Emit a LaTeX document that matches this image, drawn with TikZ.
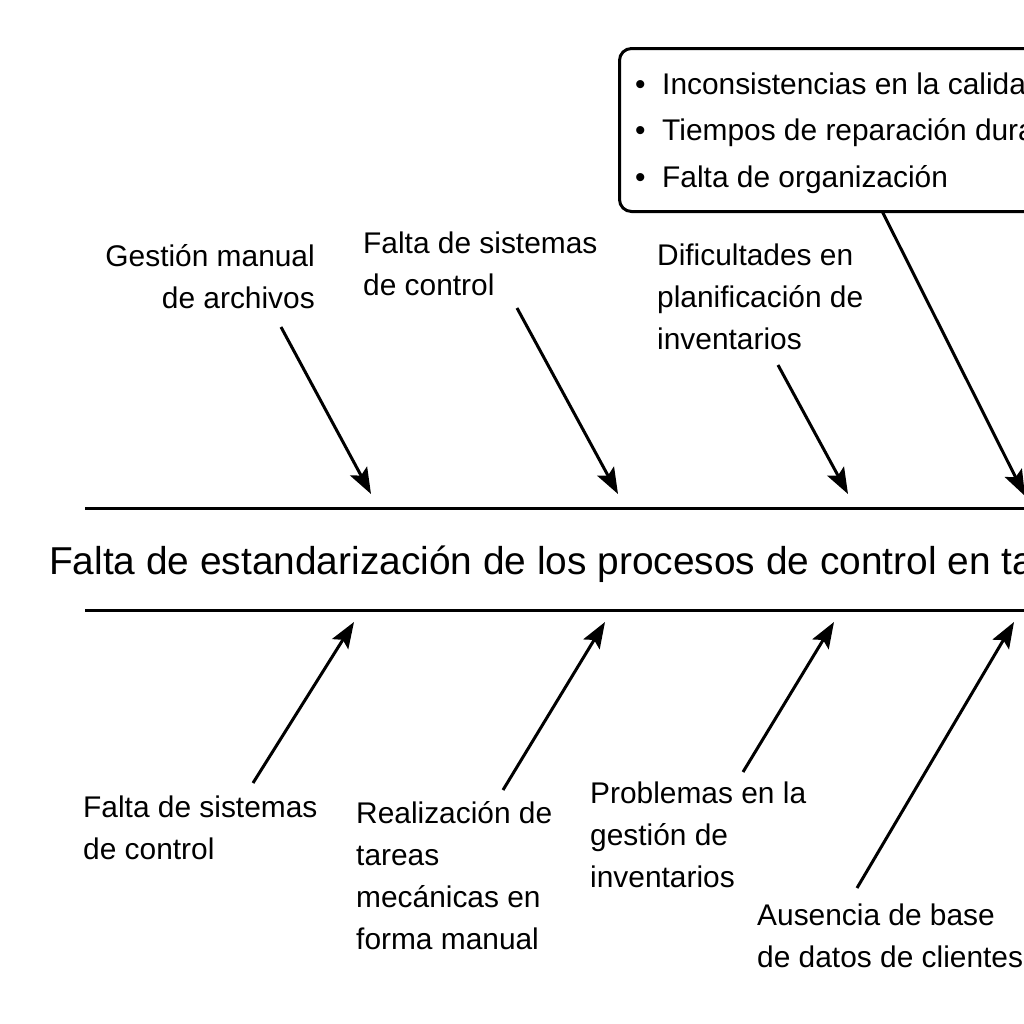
\documentclass[tikz,border=0pt]{standalone}
\usepackage{fontspec}
\setmainfont{Liberation Sans}
\usetikzlibrary{arrows.meta}
\begin{document}
\begin{tikzpicture}[x=1bp,y=-1bp,
  lbl/.style={font=\fontsize{30}{42}\selectfont, inner sep=0pt, align=left},
  boxtext/.style={font=\fontsize{30}{46.5}\selectfont, inner sep=0pt, align=left},
  spine/.style={line width=3bp},
  cause/.style={line width=3bp, -{Stealth[length=26bp,width=19bp,inset=5bp]}},
  effbox/.style={draw, line width=3bp, rounded corners=12bp, inner sep=0pt}]
\useasboundingbox (0,0) rectangle (1024,1024);
\clip (0,0) rectangle (1024,1024);
\fill[white] (0,0) rectangle (1024,1024);

% spine
\coordinate (s1l) at (85,508);
\coordinate (s1r) at (1040,508);
\coordinate (s2l) at (85,610);
\coordinate (s2r) at (1040,610);
\draw[spine] (s1l) -- (s1r);
\draw[spine] (s2l) -- (s2r);
\node[anchor=base west, inner sep=0pt, font=\fontsize{39}{46}\selectfont] (title) at (49,574)
  {Falta de estandarización de los procesos de control en talleres};

% effect box
\node[effbox, anchor=north west, minimum width=600bp, minimum height=163bp] (bx) at (618,47) {};
\node[boxtext, anchor=base west] (bt) at (635,187)
  {\makebox[27bp][l]{\textbullet}Inconsistencias en la calidad\\
   \makebox[27bp][l]{\textbullet}Tiempos de reparación durante\\
   \makebox[27bp][l]{\textbullet}Falta de organización};

% upper labels (anchored at the baseline of the last line)
\node[lbl, align=right, anchor=base east] (u1) at (315,308) {Gestión manual\\de archivos};
\node[lbl, anchor=base west] (u2) at (363,295) {Falta de sistemas\\de control};
\node[lbl, anchor=base west] (u3) at (657,349) {Dificultades en\\planificación de\\inventarios};

% lower labels
\node[lbl, anchor=base west] (l1) at (83,859) {Falta de sistemas\\de control};
\node[lbl, anchor=base west] (l2) at (356,949) {Realización de\\tareas\\mecánicas en\\forma manual};
\node[lbl, anchor=base west] (l3) at (590,887) {Problemas en la\\gestión de\\inventarios};
\node[lbl, anchor=base west] (l4) at (757,967) {Ausencia de base\\de datos de clientes};

% arrow ends
\coordinate (ua1s) at (281,327); \coordinate (ua1e) at (371,494);
\coordinate (ua2s) at (517,308); \coordinate (ua2e) at (618,494);
\coordinate (ua3s) at (778,365); \coordinate (ua3e) at (848,494);
\coordinate (ua4s) at (882,211); \coordinate (ua4e) at (1025,496);
\coordinate (la1s) at (253,783); \coordinate (la1e) at (354,622);
\coordinate (la2s) at (503,790); \coordinate (la2e) at (605,622);
\coordinate (la3s) at (743,772); \coordinate (la3e) at (834,622);
\coordinate (la4s) at (857,888); \coordinate (la4e) at (1014,622);

\draw[cause] (ua1s) -- (ua1e);
\draw[cause] (ua2s) -- (ua2e);
\draw[cause] (ua3s) -- (ua3e);
\draw[cause] (ua4s) -- (ua4e);
\draw[cause] (la1s) -- (la1e);
\draw[cause] (la2s) -- (la2e);
\draw[cause] (la3s) -- (la3e);
\draw[cause] (la4s) -- (la4e);
\end{tikzpicture}
\end{document}
